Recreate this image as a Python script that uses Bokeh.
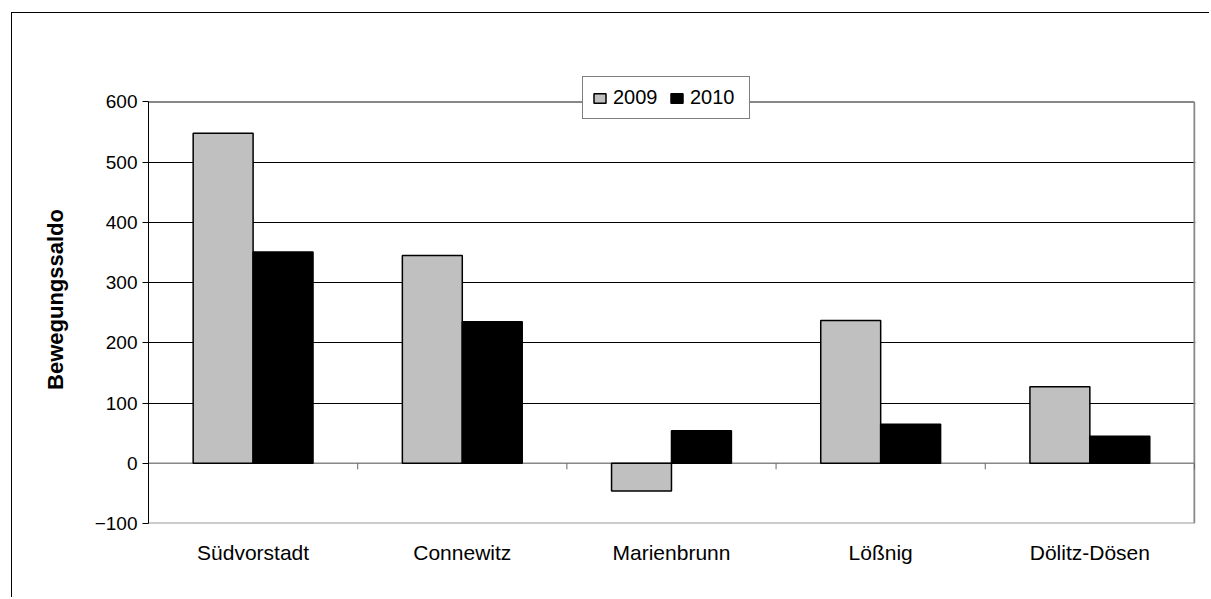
import numpy as np
from bokeh.plotting import figure
from bokeh.models import (ColumnDataSource, FixedTicker, Range1d, Legend, LegendItem)
from bokeh.embed import file_html
from bokeh.resources import INLINE

# ---- data ----
categories = ["Südvorstadt", "Connewitz", "Marienbrunn", "Lößnig", "Dölitz-Dösen"]
series_names = ["2009", "2010"]
values_2009 = [548, 345, -46, 237, 127]
values_2010 = [351, 235, 54, 65, 45]
y_ticks = [-100, 0, 100, 200, 300, 400, 500, 600]

FONT = "Liberation Sans"
bar_w = 0.2865
n = len(categories)
y_min, y_max = -100, 600
y_top_pad = 644  # room above 600 so the legend can sit on the frame line

idx = np.arange(n)
centers = idx + 0.5

p = figure(width=1198, height=585, output_backend="svg", toolbar_location=None,
           x_range=Range1d(0, n + 0.005), y_range=Range1d(y_min, y_top_pad),
           min_border_left=136, min_border_top=62, min_border_right=15,
           min_border_bottom=75)

p.styles = {"border-left": "1px solid black", "border-top": "1px solid black",
            "margin-left": "11px", "margin-top": "12px"}

p.background_fill_color = "white"
p.border_fill_color = "white"
p.outline_line_color = None

src09 = ColumnDataSource(dict(x=centers - bar_w / 2, top=values_2009))
src10 = ColumnDataSource(dict(x=centers + bar_w / 2, top=values_2010))

# grid
p.xgrid.grid_line_color = None
p.ygrid.grid_line_color = "black"
p.ygrid.grid_line_width = 1
p.ygrid.ticker = FixedTicker(ticks=[100, 200, 300, 400, 500])

# plot-area border (gray) on top / right / bottom
p.line(x=[0, n], y=[y_max, y_max], line_color="#888888", line_width=2)
p.line(x=[n, n], y=[y_min, y_max], line_color="#888888", line_width=2)
p.line(x=[0, n], y=[y_min, y_min], line_color="#999999", line_width=2)

# zero line (category axis) with boundary ticks
p.line(x=[0, n], y=[0, 0], line_color="#888888", line_width=1.5)
bounds = np.arange(n + 1)
p.ray(x=bounds, y=np.zeros(len(bounds)), length=6, length_units="screen",
      angle=-np.pi / 2, line_color="#666666", line_width=1)

r1 = p.vbar(x="x", top="top", bottom=0, width=bar_w, source=src09,
            fill_color="#c0c0c0", line_color="black", line_width=1.5)
r2 = p.vbar(x="x", top="top", bottom=0, width=bar_w, source=src10,
            fill_color="black", line_color="black", line_width=1.5)

# y axis
p.yaxis.ticker = FixedTicker(ticks=y_ticks)
p.yaxis.bounds = (y_min, y_max)
p.yaxis.axis_label = "Bewegungssaldo"
p.yaxis.axis_label_text_font = FONT
p.yaxis.axis_label_text_font_style = "bold"
p.yaxis.axis_label_text_font_size = "22px"
p.yaxis.axis_label_text_color = "black"
p.yaxis.axis_label_standoff = 24
p.yaxis.major_label_text_font = FONT
p.yaxis.major_label_text_font_size = "19px"
p.yaxis.major_label_text_color = "black"
p.yaxis.major_label_standoff = 5
p.yaxis.major_tick_in = 0
p.yaxis.major_tick_out = 6
p.yaxis.minor_tick_line_color = None
p.yaxis.axis_line_color = "black"
p.yaxis.major_tick_line_color = "black"

# x axis (labels only)
p.xaxis.ticker = FixedTicker(ticks=list(centers))
p.xaxis.major_label_overrides = {float(c): nm for c, nm in zip(centers, categories)}
p.xaxis.major_label_text_font = FONT
p.xaxis.major_label_text_font_size = "21px"
p.xaxis.major_label_text_color = "black"
p.xaxis.major_label_standoff = 11
p.xaxis.axis_line_color = None
p.xaxis.major_tick_line_color = None
p.xaxis.minor_tick_line_color = None

legend = Legend(items=[LegendItem(label=series_names[0], renderers=[r1]),
                       LegendItem(label=series_names[1], renderers=[r2])],
                orientation="horizontal", location=(434, 404),
                label_text_font=FONT, label_text_font_size="20px",
                label_text_color="black", label_width=50,
                glyph_width=15, glyph_height=12, label_standoff=6,
                spacing=6, padding=9, margin=0,
                border_line_color="black", border_line_width=1,
                background_fill_color="white", background_fill_alpha=1.0)
p.add_layout(legend, "center")

open("out.html", "w").write(file_html(p, INLINE))
